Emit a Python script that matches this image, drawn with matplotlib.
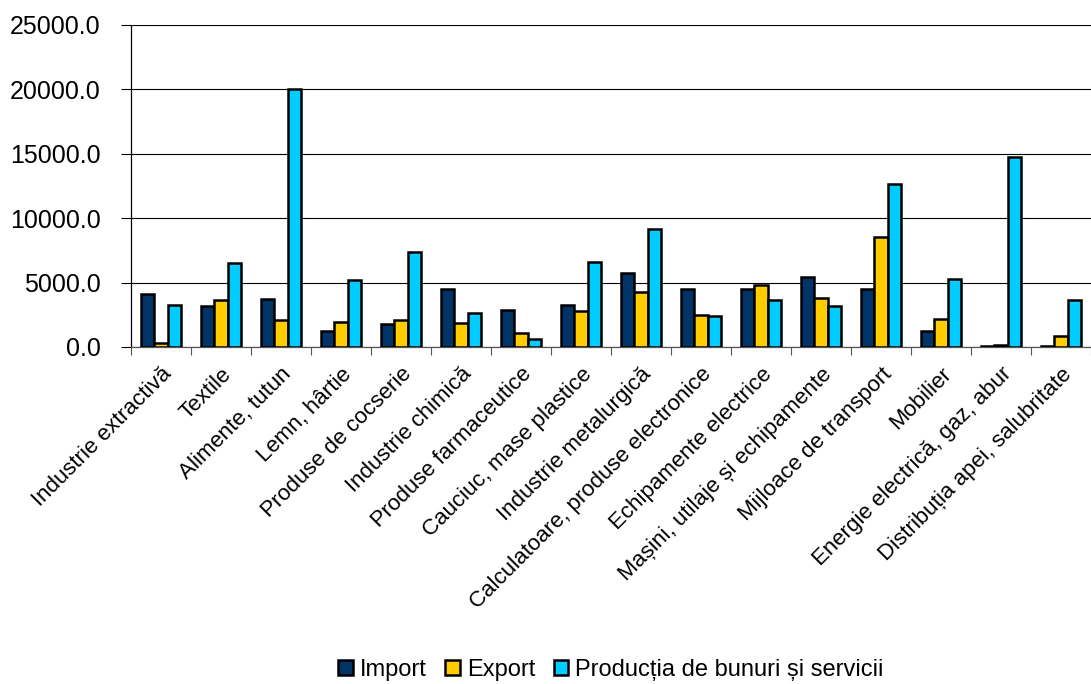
import matplotlib.pyplot as plt
import numpy as np
from matplotlib.ticker import FormatStrFormatter, FixedLocator

plt.rcParams['font.family'] = ['Liberation Sans', 'DejaVu Sans']

categories = [
    "Industrie extractivă", "Textile", "Alimente, tutun", "Lemn, hârtie",
    "Produse de cocserie", "Industrie chimică", "Produse farmaceutice",
    "Cauciuc, mase plastice", "Industrie metalurgică",
    "Calculatoare, produse electronice", "Echipamente electrice",
    "Mașini, utilaje și echipamente", "Mijloace de transport", "Mobilier",
    "Energie electrică, gaz, abur", "Distribuția apei, salubritate",
]
import_vals = [4080, 3210, 3730, 1210, 1760, 4530, 2840, 3260,
               5750, 4530, 4500, 5460, 4500, 1210, 40, 100]
export_vals = [340, 3670, 2120, 1960, 2070, 1830, 1060, 2820,
               4290, 2480, 4780, 3830, 8540, 2170, 120, 880]
prod_vals = [3280, 6490, 20050, 5200, 7380, 2640, 620, 6620,
             9160, 2380, 3670, 3210, 12680, 5300, 14750, 3620]
series_names = ["Import", "Export", "Producția de bunuri și servicii"]
colors = ["#003366", "#FFCC00", "#00CCFF"]

fig = plt.figure(figsize=(10.91, 6.84), dpi=100)
ax = fig.add_axes([131 / 1091, 1 - 347 / 684, 960 / 1091, 322 / 684])

x = np.arange(len(categories))
w = 0.225
for k, (vals, name, c) in enumerate(zip([import_vals, export_vals, prod_vals], series_names, colors)):
    ax.bar(x + (k - 1) * w, vals, width=w, color=c, edgecolor='black',
           linewidth=1.8, label=name, zorder=3)

ax.set_xlim(-0.5, len(categories) - 0.5)
ax.set_ylim(0, 25000)
ax.set_yticks(np.arange(0, 25001, 5000))
ax.yaxis.set_major_formatter(FormatStrFormatter('%.1f'))
ax.grid(axis='y', color='black', linewidth=0.8, zorder=0)

ax.set_xticks(x)
ax.set_xticklabels(categories, rotation=45, ha='right', rotation_mode='anchor', fontsize=16)
ax.xaxis.set_minor_locator(FixedLocator(np.arange(-0.5, len(categories), 1.0)))
ax.tick_params(axis='x', which='major', length=0, pad=12)
ax.tick_params(axis='x', which='minor', length=6, width=0.8, color='#555555')
ax.tick_params(axis='y', labelsize=18, length=7, width=0.8, pad=15)

for s in ['top', 'right']:
    ax.spines[s].set_visible(False)
ax.spines['left'].set_linewidth(0.9)
ax.spines['bottom'].set_linewidth(0.9)
ax.spines['bottom'].set_color('#555555')

fig.legend(loc='center', bbox_to_anchor=(611 / 1091, 1 - 670 / 684), ncol=3,
           frameon=False, fontsize=17, handlelength=0.6, handleheight=0.6,
           handletextpad=0.3, columnspacing=0.8)

fig.savefig('out.png', dpi=100)
